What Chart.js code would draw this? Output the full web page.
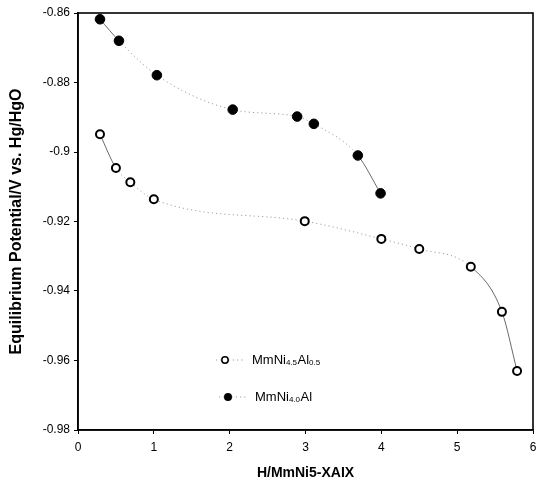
<!DOCTYPE html>
<html>
<head>
<meta charset="utf-8">
<script src="https://cdn.jsdelivr.net/npm/chart.js@4.4.1/dist/chart.umd.min.js"></script>
<style>
  html,body{margin:0;padding:0;background:#fff;}
  #wrap{width:543px;height:482px;}
</style>
</head>
<body>
<div id="wrap"><canvas id="eqChart" width="543" height="482"></canvas></div>
<script>
/* Equilibrium potential vs hydrogen content for two MmNi5-xAlx alloys */

// MmNi4.5Al0.5 (open circles)
const hX_Al05 = [0.29, 0.50, 0.69, 1.00, 2.99, 4.00, 4.50, 5.18, 5.59, 5.79];
const pot_Al05 = [-0.8949, -0.9046, -0.9087, -0.9136, -0.9199, -0.9250, -0.9279, -0.9330, -0.9460, -0.9630];

// MmNi4.0Al (filled circles)
const hX_Al10 = [0.29, 0.54, 1.04, 2.04, 2.89, 3.11, 3.69, 3.99];
const pot_Al10 = [-0.8618, -0.8680, -0.8779, -0.8878, -0.8898, -0.8919, -0.9010, -0.9119];

// axis ticks
const xTicks = [0, 1, 2, 3, 4, 5, 6];
const yTicks = [-0.98, -0.96, -0.94, -0.92, -0.9, -0.88, -0.86];

// legend text pieces: [main, subscript, main, subscript]
const legendAl05 = ['MmNi', '4.5', 'Al', '0.5'];
const legendAl10 = ['MmNi', '4.0', 'Al', ''];

const FONT = '"Liberation Sans", Arial, sans-serif';

const toPts = (xs, ys) => xs.map((x, i) => ({x, y: ys[i]}));

// steep stretches of each curve are drawn solid, flat ones dotted
const steep = c => Math.abs(c.p1.y - c.p0.y) > Math.abs(c.p1.x - c.p0.x);
const segStyle = {
  borderDash: c => steep(c) ? [] : [1.2, 3],
  borderColor: c => steep(c) ? '#444' : '#888'
};

const boxPlugin = {
  id: 'boxFrame',
  afterDraw(chart){
    const {ctx, chartArea:a} = chart;
    ctx.save();
    ctx.strokeStyle = '#000';
    ctx.lineWidth = 1.6;
    ctx.strokeRect(a.left, a.top, a.right - a.left, a.bottom - a.top);
    ctx.restore();
  }
};

function drawSubLabel(ctx, parts, x, y){
  let cx = x;
  parts.forEach((p, i) => {
    if(!p) return;
    const sub = i % 2 === 1;
    ctx.font = (sub ? '8px ' : '13px ') + FONT;
    ctx.fillText(p, cx, sub ? y + 3 : y);
    cx += ctx.measureText(p).width + (sub ? 0.5 : 0);
  });
}

const legendPlugin = {
  id: 'alloyLegend',
  afterDraw(chart){
    const {ctx, chartArea:a} = chart;
    const rows = [
      {parts: legendAl05, filled: false, dx: 147, dy: 347},
      {parts: legendAl10, filled: true, dx: 150, dy: 384}
    ];
    ctx.save();
    rows.forEach(r => {
      const mx = a.left + r.dx, my = a.top + r.dy;
      ctx.strokeStyle = '#888';
      ctx.lineWidth = 0.8;
      ctx.setLineDash([1.2, 3]);
      ctx.beginPath();
      ctx.moveTo(mx - 9, my); ctx.lineTo(mx + 18, my);
      ctx.stroke();
      ctx.setLineDash([]);
      ctx.beginPath();
      ctx.arc(mx, my, r.filled ? 4 : 3.2, 0, Math.PI * 2);
      if(r.filled){ ctx.fillStyle = '#000'; ctx.fill(); }
      else { ctx.fillStyle = '#fff'; ctx.fill(); ctx.strokeStyle = '#000'; ctx.lineWidth = 1.5; ctx.stroke(); }
      ctx.fillStyle = '#000';
      ctx.textBaseline = 'middle';
      drawSubLabel(ctx, r.parts, mx + 27, my);
    });
    ctx.restore();
  }
};

new Chart(document.getElementById('eqChart'), {
  type: 'line',
  data: {
    datasets: [
      {
        label: 'MmNi4.5Al0.5',
        data: toPts(hX_Al05, pot_Al05),
        borderWidth: 0.8,
        cubicInterpolationMode: 'monotone',
        segment: segStyle,
        pointStyle: 'circle',
        pointRadius: 4,
        pointBorderWidth: 2,
        pointBackgroundColor: '#fff',
        pointBorderColor: '#000'
      },
      {
        label: 'MmNi4.0Al',
        data: toPts(hX_Al10, pot_Al10),
        borderWidth: 0.8,
        cubicInterpolationMode: 'monotone',
        segment: segStyle,
        pointStyle: 'circle',
        pointRadius: 4.8,
        pointBorderWidth: 1,
        pointBackgroundColor: '#000',
        pointBorderColor: '#000'
      }
    ]
  },
  options: {
    responsive: false,
    animation: false,
    layout: {padding: {left: 0, right: 10, top: 13, bottom: 0}},
    plugins: {legend: {display: false}, tooltip: {enabled: false}},
    scales: {
      x: {
        type: 'linear',
        min: 0, max: 6,
        afterBuildTicks: s => { s.ticks = xTicks.map(v => ({value: v})); },
        afterFit: s => { s.height = 52; },
        grid: {drawOnChartArea: false, drawTicks: true, tickLength: 4, color: '#000', lineWidth: 1},
        border: {display: true, color: '#000', width: 1.6},
        ticks: {color: '#000', padding: 6, font: {family: FONT, size: 12}},
        title: {display: true, text: 'H/MmNi5-XAIX', color: '#000', padding: {top: 0, bottom: 0},
                font: {family: FONT, size: 14, weight: 'bold'}}
      },
      y: {
        type: 'linear',
        min: -0.98, max: -0.86,
        afterBuildTicks: s => { s.ticks = yTicks.map(v => ({value: v})); },
        afterFit: s => { s.width = 78; },
        grid: {drawOnChartArea: false, drawTicks: true, tickLength: 4, color: '#000', lineWidth: 1},
        border: {display: true, color: '#000', width: 1.6},
        ticks: {color: '#000', padding: 4, font: {family: FONT, size: 12},
                callback: v => String(Number(v.toFixed(2)))},
        title: {display: true, text: 'Equilibrium Potential/V vs. Hg/HgO', color: '#000', padding: {top: 7, bottom: 0},
                font: {family: FONT, size: 16, weight: 'bold'}}
      }
    }
  },
  plugins: [boxPlugin, legendPlugin]
});
</script>
</body>
</html>
